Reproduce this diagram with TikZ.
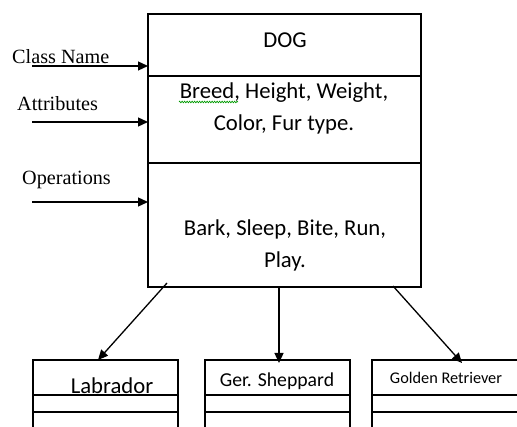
\documentclass[tikz,border=0pt]{standalone}
\usepackage{fontspec}
\setmainfont{Liberation Serif}
\newfontfamily\calib{Carlito}
\usetikzlibrary{arrows.meta,decorations.pathmorphing}
\begin{document}
\begin{tikzpicture}[x=1pt,y=-1pt,
  sect/.style={draw, line width=1.2pt, anchor=north west, inner sep=0pt, outer sep=0pt},
  arr/.style={line width=1.3pt, -{Triangle[length=10pt,width=9pt]}},
  lbl/.style={font=\fontsize{20.2}{23}\selectfont, inner sep=0pt, anchor=west},
  boxtxt/.style={font=\calib\fontsize{22.7}{32}\selectfont, align=center, inner sep=0pt}]
\useasboundingbox (0,0) rectangle (517,427);
\clip (0,0) rectangle (517,427);
% main class box
\node[sect, minimum width=273pt, minimum height=62pt] (cname) at (148,14) {};
\node[sect, minimum width=273pt, minimum height=87pt] (attr) at (148,76) {};
\node[sect, minimum width=273pt, minimum height=124pt] (ops) at (148,163) {};
\node[boxtxt] (dogt) at (285,40) {DOG};
\node[boxtxt] (attrt) at (284,108) {Breed, Height, Weight,\\Color, Fur type.};
\node[boxtxt] (opst) at (285,245) {Bark, Sleep, Bite, Run,\\Play.};
\draw[green!60!black, line width=0.6pt, decorate, decoration={zigzag, amplitude=0.9pt, segment length=2.5pt}] (179,102) -- (238,102);
% left labels
\node[lbl] (lcn) at (12,57) {Class Name};
\node[lbl] (lat) at (17,104) {Attributes};
\node[lbl] (lop) at (22,180) {Operations};
\coordinate (c1) at (32,66);
\coordinate (c2) at (32,122);
\coordinate (c3) at (32,202);
\draw[arr] (c1) -- (c1 -| cname.west);
\draw[arr] (c2) -- (c2 -| attr.west);
\draw[arr] (c3) -- (c3 -| ops.west);
% subclass boxes
\node[sect, minimum width=145pt, minimum height=35pt] (lab) at (33,360) {};
\node[sect, minimum width=145pt, minimum height=17pt] (lab2) at (33,395) {};
\node[sect, minimum width=145pt, minimum height=30pt] (lab3) at (33,412) {};
\node[sect, minimum width=145pt, minimum height=35pt] (ger) at (205,360) {};
\node[sect, minimum width=145pt, minimum height=17pt] (ger2) at (205,395) {};
\node[sect, minimum width=145pt, minimum height=30pt] (ger3) at (205,412) {};
\node[sect, minimum width=150pt, minimum height=35pt] (gol) at (372,360) {};
\node[sect, minimum width=150pt, minimum height=17pt] (gol2) at (372,395) {};
\node[sect, minimum width=150pt, minimum height=30pt] (gol3) at (372,412) {};
\node[font=\calib\fontsize{22.7}{26}\selectfont, inner sep=0pt] (labt) at (112,386) {Labrador};
\node[font=\calib\fontsize{19.7}{23}\selectfont, inner sep=0pt] (gert) at (277,381) {Ger. Sheppard};
\node[font=\calib\fontsize{16.3}{19}\selectfont, inner sep=0pt] (golt) at (446,378) {Golden Retriever};
% inheritance arrows
\draw[arr] ([xshift=19pt,yshift=4pt]ops.south west) -- ([xshift=65pt]lab.north west);
\draw[arr] ([xshift=131pt]ops.south west) -- ([xshift=74pt,yshift=-3pt]ger.north west);
\draw[arr] ([xshift=245pt,yshift=1pt]ops.south west) -- ([xshift=90pt,yshift=-3pt]gol.north west);
\end{tikzpicture}
\end{document}
